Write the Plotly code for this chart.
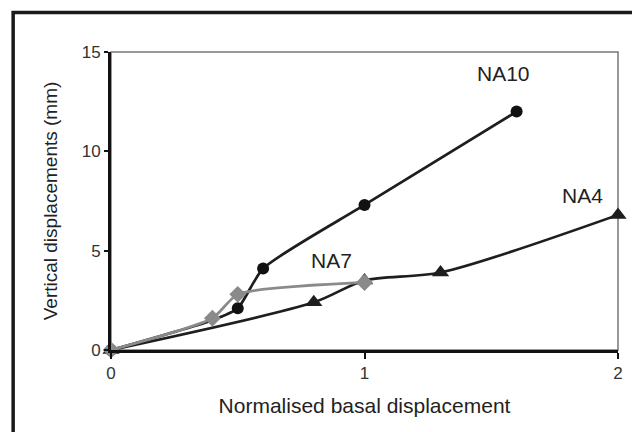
import plotly.graph_objects as go

# Data
na10_x = [0, 0.4, 0.5, 0.6, 1.0, 1.6]
na10_y = [0, 1.5, 2.1, 4.1, 7.3, 12.0]
na10_show = [True, False, True, True, True, True]

na4_x = [0, 0.8, 1.0, 1.3, 2.0]
na4_y = [0, 2.4, 3.5, 3.9, 6.8]

na7_x = [0, 0.4, 0.5, 1.0]
na7_y = [0, 1.6, 2.8, 3.4]

labels = ["NA10", "NA4", "NA7"]
label_x = [1.55, 1.86, 0.87]
label_y = [13.9, 7.8, 4.5]

x_ticks = [0, 1, 2]
y_ticks = [0, 5, 10, 15]

fig = go.Figure()

fig.add_trace(go.Scatter(
    x=na4_x, y=na4_y, mode="lines+markers", name="NA4", cliponaxis=False,
    line=dict(color="#1e1e1e", width=2.7, shape="spline", smoothing=0.8),
    marker=dict(symbol="triangle-up", size=15, color="#1e1e1e"),
))
fig.add_trace(go.Scatter(
    x=na10_x, y=na10_y, mode="lines", name="NA10", cliponaxis=False,
    line=dict(color="#1e1e1e", width=2.7, shape="spline", smoothing=0.6),
    showlegend=False,
))
fig.add_trace(go.Scatter(
    x=[x for x, s in zip(na10_x, na10_show) if s],
    y=[y for y, s in zip(na10_y, na10_show) if s],
    mode="markers", name="NA10", cliponaxis=False,
    marker=dict(symbol="circle", size=12, color="#111111"),
))
fig.add_trace(go.Scatter(
    x=na7_x, y=na7_y, mode="lines+markers", name="NA7", cliponaxis=False,
    line=dict(color="#8a8a8a", width=2.7, shape="spline", smoothing=0.6),
    marker=dict(symbol="diamond", size=13, color="#8a8a8a"),
))

for t, lx, ly in zip(labels, label_x, label_y):
    fig.add_annotation(x=lx, y=ly, text=t, showarrow=False,
                       font=dict(family="Liberation Sans, Arial", size=21, color="#222"))

# plot-area gray box (top/right)
fig.add_shape(type="rect", xref="paper", yref="paper", x0=0, y0=0, x1=1, y1=1,
              line=dict(color="#777", width=1.5), layer="below")
# outer black frame
fig.add_shape(type="rect", xref="paper", yref="paper",
              x0=-0.193, y0=-0.6, x1=1.3, y1=1.1326,
              line=dict(color="#1a1a1a", width=3.5))

fig.update_layout(
    width=640, height=432,
    margin=dict(l=103, r=30, t=44, b=90),
    paper_bgcolor="white", plot_bgcolor="white",
    showlegend=False,
    font=dict(family="Liberation Sans, Arial", color="#333"),
)
fig.update_xaxes(
    range=[0, 2], tickvals=x_ticks, ticktext=[str(v) for v in x_ticks],
    showgrid=False, zeroline=False, showline=True, linecolor="#111", linewidth=3,
    ticks="outside", ticklen=6, tickwidth=2, tickcolor="#111",
    tickfont=dict(size=17, color="#333"),
    title=dict(text="Normalised basal displacement", font=dict(size=21, color="#222"), standoff=16),
)
fig.update_yaxes(
    range=[0, 15], tickvals=y_ticks, ticktext=[str(v) for v in y_ticks],
    showgrid=False, zeroline=False, showline=True, linecolor="#111", linewidth=3,
    ticks="outside", ticklen=4, tickwidth=2, tickcolor="#111",
    tickfont=dict(size=17, color="#333"),
    title=dict(text="Vertical displacements (mm)", font=dict(size=19, color="#222"), standoff=20),
)

fig.write_html("out.html")
